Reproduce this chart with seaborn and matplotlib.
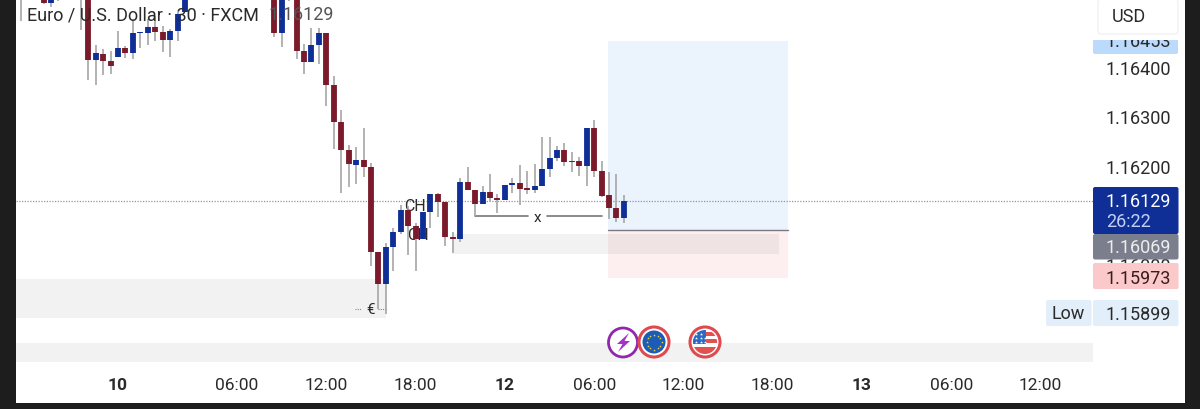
import matplotlib.pyplot as plt
import numpy as np
import pandas as pd
import seaborn as sns
from matplotlib.patches import Circle, FancyBboxPatch, Polygon, Rectangle

# prices in 1e-5 units, candles above the top edge are clipped away
opens = [116560, 116590, 116590, 116550, 116530, 116550, 116560, 116560, 116560, 116570,
         116415, 116427, 116413, 116420, 116439, 116428, 116469, 116469, 116482, 116472,
         116455, 116474, 116512, 116570, 116580, 116590, 116600, 116610, 116600, 116600,
         116590, 116590, 116580, 116570, 116560, 116469, 116580, 116560, 116432, 116411,
         116445, 116470, 116364, 116288, 116231, 116201, 116212, 116197, 116026, 115960,
         116035, 116065, 116111, 116077, 116051, 116107, 116142, 116126, 116056, 116051,
         116168, 116151, 116122, 116146, 116134, 116130, 116161, 116165, 116154, 116151,
         116158, 116194, 116215, 116231, 116209, 116209, 116199, 116277, 116189, 116141,
         116114, 116095]
closes = [116550, 116570, 116600, 116529, 116550, 116560, 116575, 116575, 116570, 116415,
          116428, 116412, 116403, 116439, 116428, 116470, 116471, 116482, 116472, 116455,
          116474, 116508, 116550, 116590, 116600, 116610, 116620, 116600, 116610, 116590,
          116600, 116580, 116570, 116565, 116469, 116560, 116560, 116432, 116411, 116445,
          116470, 116364, 116288, 116231, 116203, 116212, 116197, 116026, 115960, 116035,
          116066, 116111, 116077, 116051, 116107, 116142, 116126, 116056, 116051, 116168,
          116151, 116122, 116146, 116134, 116131, 116161, 116165, 116153, 116151, 116158,
          116194, 116215, 116231, 116207, 116207, 116199, 116277, 116189, 116139, 116114,
          116095, 116129]
highs = [116580, 116610, 116610, 116570, 116565, 116570, 116590, 116590, 116590, 116590,
         116444, 116437, 116433, 116473, 116443, 116497, 116471, 116497, 116504, 116483,
         116477, 116512, 116570, 116600, 116610, 116620, 116630, 116630, 116620, 116610,
         116610, 116600, 116590, 116580, 116580, 116580, 116600, 116580, 116447, 116479,
         116479, 116470, 116382, 116313, 116243, 116238, 116276, 116205, 116026, 116043,
         116074, 116121, 116119, 116084, 116107, 116142, 116145, 116126, 116065, 116176,
         116197, 116151, 116158, 116184, 116143, 116161, 116176, 116201, 116189, 116203,
         116258, 116259, 116240, 116246, 116228, 116217, 116277, 116293, 116209, 116187,
         116183, 116141]
lows = [116493, 116550, 116550, 116527, 116522, 116534, 116550, 116550, 116475, 116374,
        116364, 116383, 116386, 116420, 116419, 116417, 116439, 116445, 116452, 116430,
        116420, 116452, 116512, 116560, 116570, 116580, 116590, 116590, 116590, 116580,
        116580, 116570, 116560, 116550, 116461, 116441, 116534, 116416, 116386, 116411,
        116406, 116322, 116234, 116144, 116157, 116163, 116177, 115997, 115909, 115899,
        115986, 116061, 116019, 115987, 116051, 116073, 116097, 116038, 116023, 116046,
        116151, 116099, 116122, 116129, 116105, 116130, 116145, 116121, 116143, 116145,
        116158, 116177, 116210, 116200, 116188, 116180, 116159, 116178, 116136, 116092,
        116085, 116083]

x_ticks = [13, 29, 41, 53, 65, 77, 89, 101, 113, 125, 137]
x_labels = ["10", "06:00", "12:00", "18:00", "12", "06:00", "12:00", "18:00", "13", "06:00", "12:00"]
day_labels = ["10", "12", "13"]
y_ticks = [1.164, 1.163, 1.162, 1.16]
y_labels = ["1.16400", "1.16300", "1.16200", "1.16000"]

last_price = 1.16129
take_profit = 1.16453
entry = 1.16069
stop_loss = 1.15973
low_price = 1.15899
countdown = "26:22"

BLUE = "#0f2f96"
RED = "#7a1a2b"
WICK = "#a6a6a6"
INK = "#2a2a2a"

sns.set_theme(style="white")
plt.rcParams["font.family"] = ["Roboto", "DejaVu Sans"]

bars = pd.DataFrame({"candle": range(len(opens)), "open": opens, "high": highs, "low": lows, "close": closes})
bars[["open", "high", "low", "close"]] /= 1e5
bars["side"] = np.where(bars["close"] >= bars["open"], "up", "down")
wicks = bars.melt(id_vars=["candle"], value_vars=["low", "high"], value_name="price")
bodies = bars.melt(id_vars=["candle", "side"], value_vars=["open", "close"], value_name="price")

fig = plt.figure(figsize=(12, 4.1), dpi=100)
ax = fig.add_axes([16 / 1200, 45 / 410, 1077 / 1200, 365 / 410])


def to_py(price):
    return (1.16538 - price) / 2.028e-5


grey = dict(color="#808080", alpha=0.1, lw=0, zorder=1)
ax.fill_between([-0.71, 49], 1.15891, 1.1597, **grey)
ax.fill_between([58, 101.8], 1.16022, 1.16061, **grey)
ax.fill_between([-0.71, 144.05], 1.15802, 1.1584, **grey)
ax.fill_between([78.85, 103.05], entry, take_profit, color="#ebf3fd", lw=0, zorder=0.5)
ax.fill_between([78.85, 103.05], stop_loss, entry, color="#fdeff0", lw=0, zorder=0.5)
ax.plot([78.85, 103.05], [entry, entry], color="#7d7884", lw=1.0, zorder=1.5)
ax.axhline(last_price, color="#8b97a5", lw=0.9, ls=(0, (1, 1.2)), zorder=1.5)

ax.plot([61, 68.1], [1.16098, 1.16098], color="#777777", lw=1.2, zorder=1.5)
ax.plot([70.6, 78], [1.16098, 1.16098], color="#777777", lw=1.2, zorder=1.5)
ax.text(69.4, 1.16096, "x", ha="center", va="center", fontsize=11, color=INK, zorder=1.5)
ax.text(52.9, 1.16119, "CH", ha="center", va="center", fontsize=11.5, color=INK, zorder=1.5)
ax.text(53.3, 1.1606, "CH", ha="center", va="center", fontsize=11.5, color=INK, zorder=1.5)
ax.text(46.9, 1.15909, "€", ha="center", va="center", fontsize=11, color=INK, zorder=1.5)
ax.plot([44.8, 45.7], [1.15909, 1.15909], color="#888888", lw=0.8, ls=(0, (1, 1)), zorder=1.5)
ax.plot([48, 49.1], [1.15909, 1.15909], color="#888888", lw=0.8, ls=(0, (1, 1)), zorder=1.5)

sns.lineplot(data=wicks, x="candle", y="price", units="candle", estimator=None, sort=False,
             color=WICK, linewidth=1.2, solid_capstyle="butt", zorder=2, legend=False, ax=ax)
sns.lineplot(data=bodies, x="candle", y="price", units="candle", hue="side", estimator=None, sort=False,
             palette={"up": BLUE, "down": RED}, linewidth=4.2, solid_capstyle="butt", zorder=3,
             legend=False, ax=ax)

ax.set_xlim(-0.71, 144.05)
ax.set_ylim(1.15798, 1.16538)
ax.set_xlabel("")
ax.set_ylabel("")
ax.set_xticks(x_ticks, x_labels)
ax.yaxis.tick_right()
ax.set_yticks(y_ticks, y_labels)
ax.tick_params(axis="x", length=0, pad=9.5, labelsize=12.5, colors=INK)
ax.tick_params(axis="y", length=0, pad=9, labelsize=13, colors=INK)
for lab in ax.get_xticklabels():
    if lab.get_text() in day_labels:
        lab.set_fontweight("bold")
sns.despine(ax=ax, left=True, bottom=True, right=True, top=True)

# everything around the plot is drawn in pixel coordinates
ui = fig.add_axes([0, 0, 1, 1])
ui.set_xlim(0, 1200)
ui.set_ylim(410, 0)
ui.axis("off")


def badge(x0, y0, x1, y1, color, z=5):
    ui.add_patch(FancyBboxPatch((x0 + 2, y0 + 2), x1 - x0 - 4, y1 - y0 - 4, boxstyle="round,pad=2",
                                fc=color, ec="none", zorder=z))


def price_text(y, s, color=INK, z=6, x=1171):
    ui.text(x, y, s, ha="right", va="center", fontsize=13, color=color, zorder=z)


ui.text(27, 15, "Euro / U.S. Dollar · 30 · FXCM", ha="left", va="center", fontsize=13, color=INK, zorder=4)
ui.text(268, 15, f"{last_price:.5f}", ha="left", va="center", fontsize=13, color="#555555", zorder=4)

badge(1093, 30, 1178, 55, "#bbdafc")
price_text(to_py(take_profit), f"{take_profit:.5f}")
ui.add_patch(Rectangle((1090, 0), 92, 41, fc="white", ec="none", zorder=7))
ui.add_patch(FancyBboxPatch((1101, 3), 74, 29, boxstyle="round,pad=3", fc="white", ec="#f1f1f1", lw=1, zorder=8))
ui.text(1129, 17, "USD", ha="center", va="center", fontsize=13, color=INK, zorder=9)

badge(1093, 188, 1178.5, 235, BLUE)
price_text(to_py(last_price), f"{last_price:.5f}", color="white")
ui.text(1106, 222, countdown, ha="left", va="center", fontsize=13, color="#c3d1f6", zorder=6)
badge(1093, 235, 1178.5, 260.5, "#7b7e8c")
price_text(248, f"{entry:.5f}", color="#eeeeee")
badge(1093, 264, 1178.5, 290, "#fbc9c9")
price_text(to_py(stop_loss), f"{stop_loss:.5f}", color="#3a1c1c")
badge(1046, 301, 1091.5, 327, "#e3eefb")
badge(1093, 301, 1178.5, 327, "#e3eefb")
ui.text(1068.5, 314.5, "Low", ha="center", va="center", fontsize=13, color=INK, zorder=6)
price_text(to_py(low_price), f"{low_price:.5f}")

# event icons
ui.add_patch(Circle((623, 343.5), 14.5, fc="white", ec="#9027ad", lw=2, zorder=5))
ui.add_patch(Polygon([(629, 334), (617, 345), (622.5, 345), (618, 353), (630, 342), (624.5, 342)],
                     fc="#a632cc", ec="none", zorder=6))

ui.add_patch(Circle((654, 343), 15, fc="white", ec="#df4a4f", lw=2.2, zorder=5))
ui.add_patch(Circle((654, 343), 11.5, fc="#1c5cb5", ec="none", zorder=6))
angles = np.linspace(0, 2 * np.pi, 12, endpoint=False)
ui.scatter(654 + 7.5 * np.cos(angles), 343 + 7.5 * np.sin(angles), s=4, marker="*", color="#e8d44a", lw=0, zorder=7)

ui.add_patch(Circle((705, 343), 15, fc="white", ec="#df4a4f", lw=2.2, zorder=5))
disc = Circle((705, 343), 12, fc="white", ec="none", zorder=6)
ui.add_patch(disc)
for top in (333, 340, 347.5):
    stripe = Rectangle((692, top), 26, 3.5, fc="#e2504f", ec="none", zorder=7)
    ui.add_patch(stripe)
    stripe.set_clip_path(disc)
belly = Rectangle((692, 351), 26, 6, fc="#e2504f", ec="none", zorder=7)
ui.add_patch(belly)
belly.set_clip_path(disc)
canton = Rectangle((692, 330), 14, 14.5, fc="#2a6cc4", ec="none", zorder=8)
ui.add_patch(canton)
canton.set_clip_path(disc)
stars = ui.scatter([696, 701, 696, 701, 705, 696, 701, 705], [335, 335, 339, 339, 339, 343, 343, 343], s=5,
                   marker="*", color="white", lw=0, zorder=9)

# dark phone frame
for x0, y0, w, h in [(0, 0, 15.5, 410), (1184.5, 0, 15.5, 410), (0, 404, 1200, 6)]:
    ui.add_patch(Rectangle((x0, y0), w, h, fc="#1d1d1d", ec="none", zorder=10))

fig.savefig("out.png", dpi=100)
